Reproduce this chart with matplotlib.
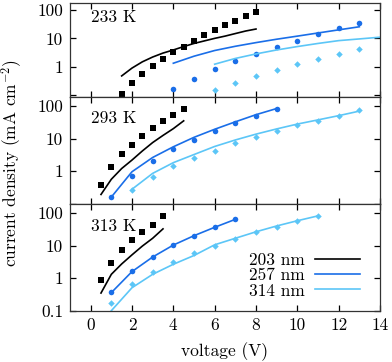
import matplotlib
matplotlib.use("Agg")
import matplotlib.pyplot as plt
from matplotlib.ticker import FixedLocator, FixedFormatter, NullLocator

plt.rcParams['font.family'] = ['cmr10', 'DejaVu Serif']
plt.rcParams['mathtext.fontset'] = 'cm'
plt.rcParams['axes.unicode_minus'] = False
plt.rcParams['axes.formatter.use_mathtext'] = True

FS = 12.5
C_BLACK = '#000000'
C_BLUE = '#1a6ee8'
C_LIGHT = '#5cc6f7'

labels = ['203 nm', '257 nm', '314 nm']
temps = ['233 K', '293 K', '313 K']

# ---- 233 K ----
v233_black = [1.5, 2, 2.5, 3, 3.5, 4, 4.5, 5, 5.5, 6, 6.5, 7, 7.5, 8]
j233_black = [0.106, 0.26, 0.55, 1.03, 1.87, 3.2, 5.1, 8.3, 13.2, 19.3, 29, 42, 60, 84]
f233_black = [0.47, 0.89, 1.48, 2.19, 3.02, 3.89, 5.13, 6.61, 8.13, 10.0, 12.0, 14.8, 18.2, 21.4]
v233_blue = [4, 5, 6, 7, 8, 9, 10, 11, 12, 13]
j233_blue = [0.166, 0.38, 0.81, 1.55, 2.88, 4.97, 8.3, 13.9, 22.8, 35.9]
f233_blue = [1.32, 2.34, 3.72, 5.25, 7.08, 9.33, 12.0, 15.5, 20.0, 25.7]
v233_light = [6, 7, 8, 9, 10, 11, 12, 13]
j233_light = [0.15, 0.265, 0.46, 0.75, 1.22, 1.83, 2.81, 4.1]
fv233_light = [6, 7, 8, 9, 10, 11, 12, 13, 14]
f233_light = [1.22, 1.95, 2.82, 3.89, 5.13, 6.61, 8.32, 9.55, 11.0]

# ---- 293 K ----
v293_black = [0.5, 1, 1.5, 2, 2.5, 3, 3.5, 4, 4.5]
j293_black = [0.36, 1.3, 3.3, 6.6, 12.2, 21, 34.6, 54, 81]
f293_black = [0.19, 0.56, 1.2, 2.19, 4.17, 7.59, 12.6, 20.4, 35.5]
v293_blue = [1, 2, 3, 4, 5, 6, 7, 8, 9]
j293_blue = [0.155, 0.70, 2.03, 4.77, 9.4, 17, 29.4, 49.3, 81]
f293_blue = [0.158, 0.955, 2.63, 5.62, 11.0, 19.5, 33.1, 55.0, 85.1]
v293_light = [2, 3, 4, 5, 6, 7, 8, 9, 10, 11, 12, 13]
j293_light = [0.27, 0.67, 1.43, 2.56, 4.3, 7.3, 11.4, 17, 25.5, 36.3, 51.6, 75]
f293_light = [0.275, 0.85, 1.82, 3.24, 5.75, 9.12, 13.8, 20.0, 28.2, 38.0, 51.3, 70.8]

# ---- 313 K ----
v313_black = [0.5, 1, 1.5, 2, 2.5, 3, 3.5]
j313_black = [0.87, 3.0, 7.3, 14.8, 27.3, 44, 80]
f313_black = [0.35, 1.32, 2.75, 5.25, 9.77, 17.0, 33.1]
v313_blue = [1, 2, 3, 4, 5, 6, 7]
j313_blue = [0.37, 1.68, 4.65, 10.7, 20.6, 37.5, 67.6]
f313_blue = [0.36, 1.6, 4.5, 10.5, 20.4, 37, 65]
v313_light = [1, 2, 3, 4, 5, 6, 7, 8, 9, 10, 11]
j313_light = [0.176, 0.65, 1.6, 3.25, 5.9, 10.1, 16.4, 25.6, 39, 57, 84]
f313_light = [0.1, 0.51, 1.32, 2.69, 5.01, 10.7, 17.0, 26.9, 40.7, 58.9, 83.2]

xticks = [0, 2, 4, 6, 8, 10, 12, 14]
yticks = [0.1, 1, 10, 100]
ytick_labels = ['0.1', '1', '10', '100']

panels = [
    dict(temp=temps[0],
         pts=[(v233_black, j233_black), (v233_blue, j233_blue), (v233_light, j233_light)],
         fits=[(v233_black, f233_black), (v233_blue, f233_blue), (fv233_light, f233_light)],
         ylim=(0.088, 178), rect=[70, 3, 380, 96.5], ty=0.85),
    dict(temp=temps[1],
         pts=[(v293_black, j293_black), (v293_blue, j293_blue), (v293_light, j293_light)],
         fits=[(v293_black, f293_black), (v293_blue, f293_blue), (v293_light, f293_light)],
         ylim=(0.1, 200), rect=[70, 96.5, 380, 203.5], ty=0.80),
    dict(temp=temps[2],
         pts=[(v313_black, j313_black), (v313_blue, j313_blue), (v313_light, j313_light)],
         fits=[(v313_black, f313_black), (v313_blue, f313_blue), (v313_light, f313_light)],
         ylim=(0.1, 200), rect=[70, 203.5, 380, 310.7], ty=0.79),
]

W, H = 392, 362
fig = plt.figure(figsize=(W / 100, H / 100), dpi=100)

colors = [C_BLACK, C_BLUE, C_LIGHT]
markers = [('s', 4.3), ('o', 4.0), ('D', 3.3)]

for i, p in enumerate(panels):
    x0, y0, x1, y1 = p['rect']
    ax = fig.add_axes([x0 / W, 1 - y1 / H, (x1 - x0) / W, (y1 - y0) / H])
    for k in range(3):
        fv, fj = p['fits'][k]
        ax.plot(fv, fj, '-', color=colors[k], lw=1.2, label=labels[k])
        pv, pj = p['pts'][k]
        m, ms = markers[k]
        ax.plot(pv, pj, ls='none', marker=m, ms=ms, color=colors[k], mew=0)
    ax.set_yscale('log')
    ax.set_xlim(-1, 14)
    ax.set_ylim(*p['ylim'])
    ax.xaxis.set_major_locator(FixedLocator(xticks))
    ax.yaxis.set_major_locator(FixedLocator(yticks))
    ax.yaxis.set_minor_locator(NullLocator())
    ax.xaxis.set_minor_locator(NullLocator())
    if i == 2:
        ax.yaxis.set_major_formatter(FixedFormatter(ytick_labels))
        ax.set_xticklabels([str(t) for t in xticks])
    else:
        ax.yaxis.set_major_formatter(FixedFormatter(['', '1', '10', '100']))
        ax.set_xticklabels([])
    ax.tick_params(which='both', direction='in', top=True, right=True,
                   length=4.5, width=0.9, labelsize=FS, pad=5)
    for s in ax.spines.values():
        s.set_linewidth(0.9)
        s.set_color('#333333')
    ax.text(0.068, p['ty'], p['temp'], transform=ax.transAxes,
            fontsize=FS, va='center', ha='left')
    if i == 2:
        leg = ax.legend(loc='lower right', frameon=False, fontsize=FS,
                        markerfirst=False, handlelength=2.6, handletextpad=0.6,
                        labelspacing=0.0, borderaxespad=0.3,
                        bbox_to_anchor=(0.975, 0.0))

fig.text(12 / W, 1 - 163 / H, 'current density (mA cm$^{-2}$)', rotation=90,
         ha='center', va='center', fontsize=FS)
fig.text(225 / W, 1 - 352 / H, 'voltage (V)', ha='center', va='center', fontsize=FS)

fig.savefig('out.png', dpi=100)
